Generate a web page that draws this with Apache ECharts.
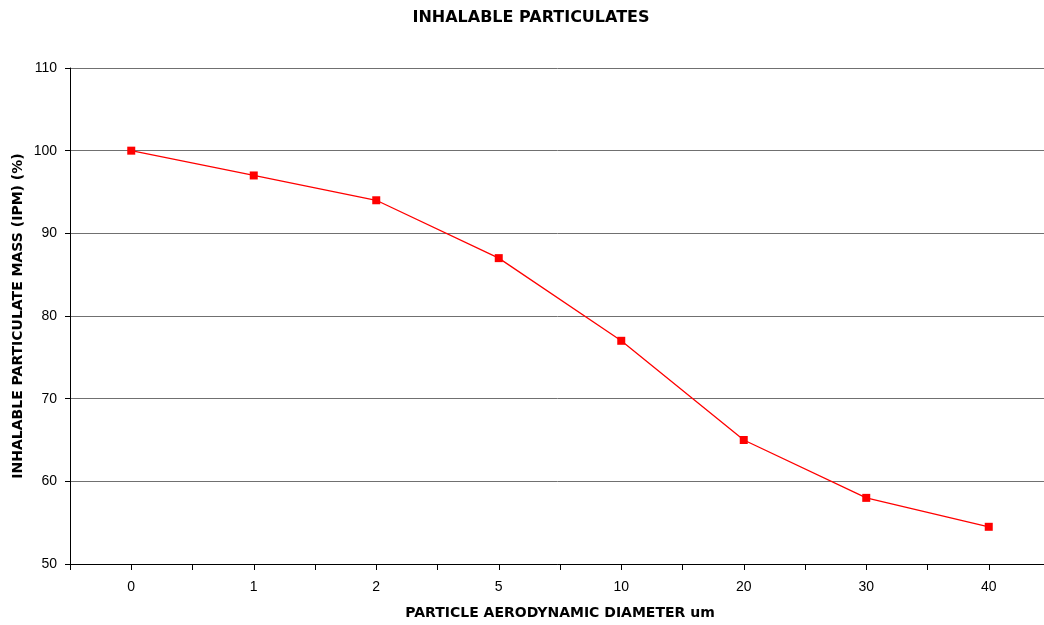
<!DOCTYPE html>
<html>
<head>
<meta charset="utf-8">
<script src="https://cdn.jsdelivr.net/npm/echarts@6/dist/echarts.min.js"></script>
<style>
  html, body { margin: 0; padding: 0; background: #fff; }
  #chart { width: 1044px; height: 625px; }
</style>
</head>
<body>
<div id="chart"></div>
<script>
// Particle aerodynamic diameter (um) categories and inhalable fraction (%)
const diameters = ['0', '1', '2', '5', '10', '20', '30', '40'];
const ipmPercent = [100, 97, 94, 87, 77, 65, 58, 54.5];
const yTicks = { min: 50, max: 110, step: 10 };

// Categories are placed at integer positions so ticks can fall both on and between them
const points = ipmPercent.map((v, i) => [i, v]);

const boldFont = 'Verdana, "DejaVu Sans", sans-serif';
const tickFont = '"Liberation Sans", Arial, sans-serif';
const chart = echarts.init(document.getElementById('chart'));
chart.setOption({
  animation: false,
  backgroundColor: '#ffffff',
  title: {
    text: 'INHALABLE PARTICULATES',
    left: 526, top: 5, textAlign: 'center',
    textStyle: { fontFamily: boldFont, fontSize: 16, fontWeight: 'bold', color: '#000' }
  },
  grid: {
    left: 70, top: 68, width: 980, bottom: 61,
    containLabel: false, outerBoundsMode: 'none'
  },
  xAxis: {
    type: 'value',
    min: -0.5, max: diameters.length - 0.5, interval: 0.5,
    name: 'PARTICLE AERODYNAMIC DIAMETER um',
    nameLocation: 'middle', nameGap: 42, nameMoveOverlap: false,
    nameTextStyle: { fontFamily: boldFont, fontSize: 14, fontWeight: 'bold', color: '#000' },
    axisLine: { show: true, onZero: false, lineStyle: { color: '#000', width: 1 } },
    axisTick: { show: true, length: 6, lineStyle: { color: '#000' } },
    axisLabel: {
      fontFamily: tickFont, fontSize: 14, color: '#000', margin: 16,
      showMinLabel: true, showMaxLabel: true,
      formatter: v => (Number.isInteger(v) && v >= 0 && v < diameters.length) ? diameters[v] : ''
    },
    splitLine: { show: false }
  },
  yAxis: {
    type: 'value',
    min: yTicks.min, max: yTicks.max, interval: yTicks.step,
    name: 'INHALABLE PARTICULATE MASS (IPM) (%)',
    nameLocation: 'middle', nameGap: 45, nameMoveOverlap: false,
    nameTextStyle: { fontFamily: boldFont, fontSize: 14, fontWeight: 'bold', color: '#000' },
    axisLine: { show: true, onZero: false, lineStyle: { color: '#000', width: 1 } },
    axisTick: { show: true, length: 5, lineStyle: { color: '#000' } },
    axisLabel: { fontFamily: tickFont, fontSize: 14, color: '#000', margin: 13 },
    splitLine: { show: true, lineStyle: { color: '#707070', width: 1 } }
  },
  series: [{
    type: 'line',
    data: points,
    symbol: 'rect',
    symbolSize: 8,
    lineStyle: { color: '#ff0000', width: 1.3 },
    itemStyle: { color: '#ff0000' },
    z: 3
  }]
});
</script>
</body>
</html>
